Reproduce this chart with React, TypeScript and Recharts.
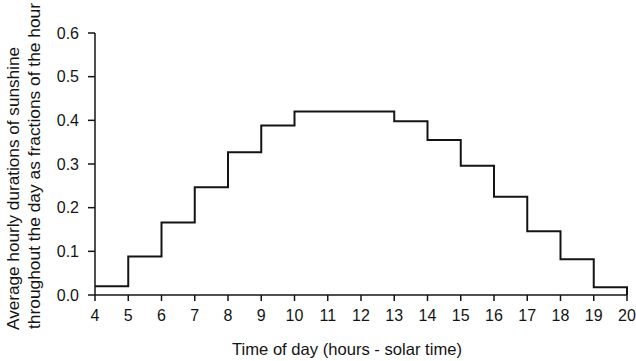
import { Line, LineChart, XAxis, YAxis } from 'recharts';

const hours = [4, 5, 6, 7, 8, 9, 10, 11, 12, 13, 14, 15, 16, 17, 18, 19, 20];
// value held from each hour to the next; the last one closes the step at 20h
const sunshine = [0.02, 0.088, 0.166, 0.247, 0.327, 0.388, 0.42, 0.42, 0.42, 0.398, 0.355, 0.296, 0.225, 0.146, 0.082, 0.018, 0];
const yTicks = [0, 0.1, 0.2, 0.3, 0.4, 0.5, 0.6];

const yLabel1 = 'Average hourly durations of sunshine';
const yLabel2 = 'throughout the day as fractions of the hour';
const xLabel = 'Time of day (hours - solar time)';

const data = hours.map((h, i) => ({ hour: h, value: sunshine[i] }));

const ink = '#141414';
const font = '"Liberation Sans", Arial, Helvetica, sans-serif';

export default function App() {
  return (
    <div style={{ position: 'absolute', left: 0, top: 0, background: '#fff' }}>
      <LineChart
        width={636}
        height={361}
        data={data}
        margin={{ top: 33, right: 9, bottom: 36, left: 36 }}
        style={{ fontFamily: font }}
      >
        <XAxis
          dataKey="hour"
          type="number"
          domain={[4, 20]}
          ticks={hours}
          interval={0}
          height={30}
          tickSize={6}
          tickMargin={9}
          stroke={ink}
          strokeWidth={1.5}
          tick={{ fill: ink, fontSize: 16 }}
        />
        <YAxis
          type="number"
          domain={[0, 0.6]}
          ticks={yTicks}
          width={59}
          tickSize={7}
          tickMargin={9}
          stroke={ink}
          strokeWidth={1.5}
          tickFormatter={(v: number) => v.toFixed(1)}
          tick={{ fill: ink, fontSize: 16 }}
        />
        <Line
          dataKey="value"
          type="stepAfter"
          stroke={ink}
          strokeWidth={2}
          dot={false}
          isAnimationActive={false}
        />
        <text
          transform="translate(19,330) rotate(-90)"
          fontSize={17.2}
          fill={ink}
          fontFamily={font}
          textLength={283}
          lengthAdjust="spacingAndGlyphs"
        >
          {yLabel1}
        </text>
        <text
          transform="translate(40,329) rotate(-90)"
          fontSize={17.2}
          fill={ink}
          fontFamily={font}
          textLength={326}
          lengthAdjust="spacingAndGlyphs"
        >
          {yLabel2}
        </text>
        <text
          x={232}
          y={355}
          fontSize={16.5}
          fill={ink}
          fontFamily={font}
          textLength={230}
          lengthAdjust="spacingAndGlyphs"
        >
          {xLabel}
        </text>
      </LineChart>
    </div>
  );
}
